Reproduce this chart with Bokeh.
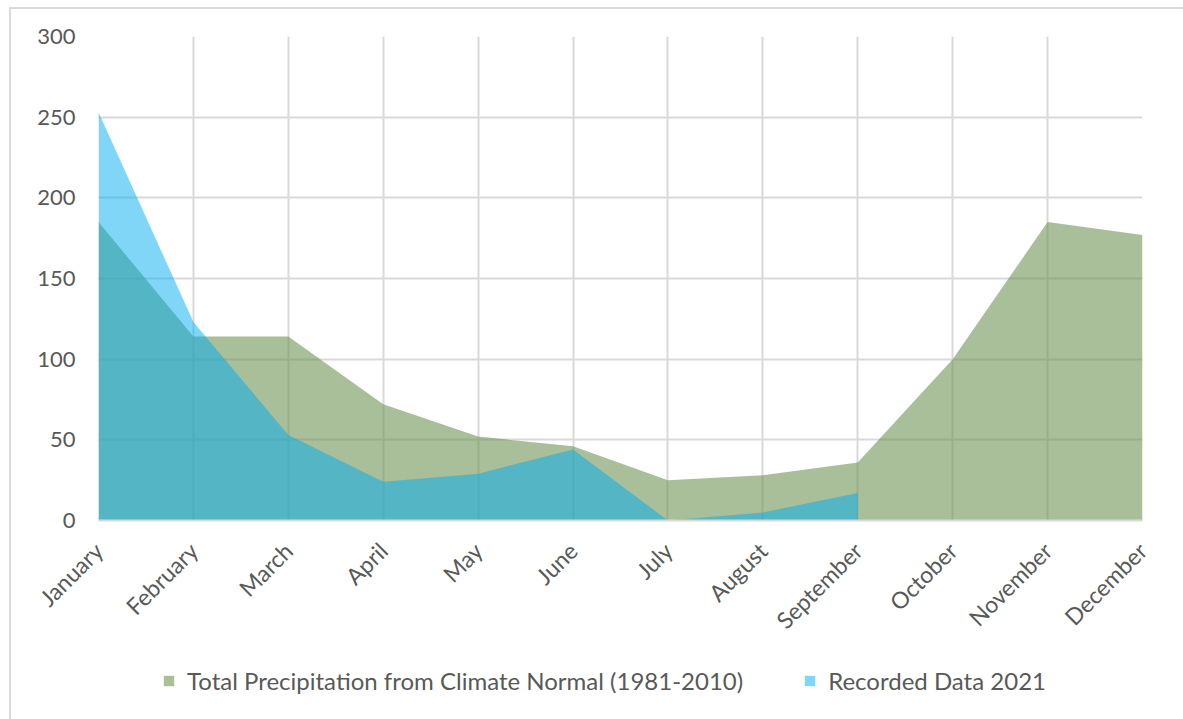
import math
from bokeh.plotting import figure
from bokeh.layouts import column
from bokeh.models import Range1d, FixedTicker, Legend, LegendItem
from bokeh.embed import file_html
from bokeh.resources import INLINE

months = ["January", "February", "March", "April", "May", "June",
          "July", "August", "September", "October", "November", "December"]
normal = [185, 114, 114, 72, 52, 46, 25, 28, 36, 100, 185, 177]
recorded = [253, 123, 53, 24, 29, 44, 0, 5, 17]
y_ticks = [0, 50, 100, 150, 200, 250, 300]
series_names = ["Total Precipitation from Climate Normal (1981-2010)", "Recorded Data 2021"]

x_all = list(range(len(months)))
x_rec = list(range(len(recorded)))

FONT = "Lato"
TXT = "#595959"
GRID = "#d9d9d9"
C_NORM = "#709457"
C_REC = "#00ADEF"

p = figure(frame_width=1042, frame_height=482, output_backend="svg", toolbar_location=None,
           x_range=Range1d(0, len(months) - 1), y_range=Range1d(0, 300),
           min_border_left=87, min_border_right=43, min_border_top=27,
           min_border_bottom=120)
p.margin = (7, 0, 0, 9)
p.styles = {"border-top": "2px solid #d9d9d9", "border-left": "2px solid #d9d9d9"}
p.outline_line_color = None
p.background_fill_color = "white"

p.varea(x=x_all, y1=[0] * len(normal), y2=normal, fill_color=C_NORM, fill_alpha=0.6)
p.varea(x=x_rec, y1=[0] * len(recorded), y2=recorded, fill_color=C_REC, fill_alpha=0.5)

p.xaxis.ticker = FixedTicker(ticks=x_all)
p.xaxis.major_label_overrides = {i: m for i, m in enumerate(months)}
p.xaxis.major_label_orientation = math.pi / 4
p.yaxis.ticker = FixedTicker(ticks=y_ticks)

for ax in (p.xaxis[0], p.yaxis[0]):
    ax.major_tick_line_color = None
    ax.minor_tick_line_color = None
    ax.major_label_text_font = FONT
    ax.major_label_text_color = TXT
p.xaxis.major_label_text_font_size = "23px"
p.yaxis.major_label_text_font_size = "22px"
p.yaxis.axis_line_color = None
p.yaxis.major_label_standoff = 17
p.xaxis.axis_line_color = GRID
p.xaxis.axis_line_width = 2
p.xaxis.major_label_standoff = 20

p.xgrid.grid_line_color = GRID
p.xgrid.grid_line_width = 2
p.ygrid.grid_line_color = GRID
p.ygrid.grid_line_width = 2

# Legend strip below the chart (same series, drawn outside its visible range)
p2 = figure(frame_width=1172, frame_height=75, output_backend="svg", toolbar_location=None,
            x_axis_type=None, y_axis_type=None,
            x_range=Range1d(0, len(months) - 1), y_range=Range1d(-2000, -1000),
            min_border_left=0, min_border_right=0, min_border_top=0, min_border_bottom=0)
p2.margin = (0, 0, 0, 9)
p2.styles = {"border-left": "2px solid #d9d9d9"}
p2.outline_line_color = None
p2.grid.visible = False
r_norm = p2.varea(x=x_all, y1=[0] * len(normal), y2=normal, fill_color=C_NORM, fill_alpha=0.6)
r_rec = p2.varea(x=x_rec, y1=[0] * len(recorded), y2=recorded, fill_color=C_REC, fill_alpha=0.5)

legend = Legend(items=[
    LegendItem(label=series_names[0], renderers=[r_norm]),
    LegendItem(label=series_names[1], renderers=[r_rec]),
], orientation="horizontal", location=(151, 25))
legend.label_text_font = FONT
legend.label_text_font_size = "24px"
legend.label_text_color = TXT
legend.border_line_color = None
legend.background_fill_alpha = 0
legend.glyph_width = 13
legend.glyph_height = 13
legend.label_standoff = 12
legend.spacing = 60
legend.margin = 0
p2.add_layout(legend, "center")

layout = column(p, p2, spacing=0)
open("out.html", "w").write(file_html(layout, INLINE))
